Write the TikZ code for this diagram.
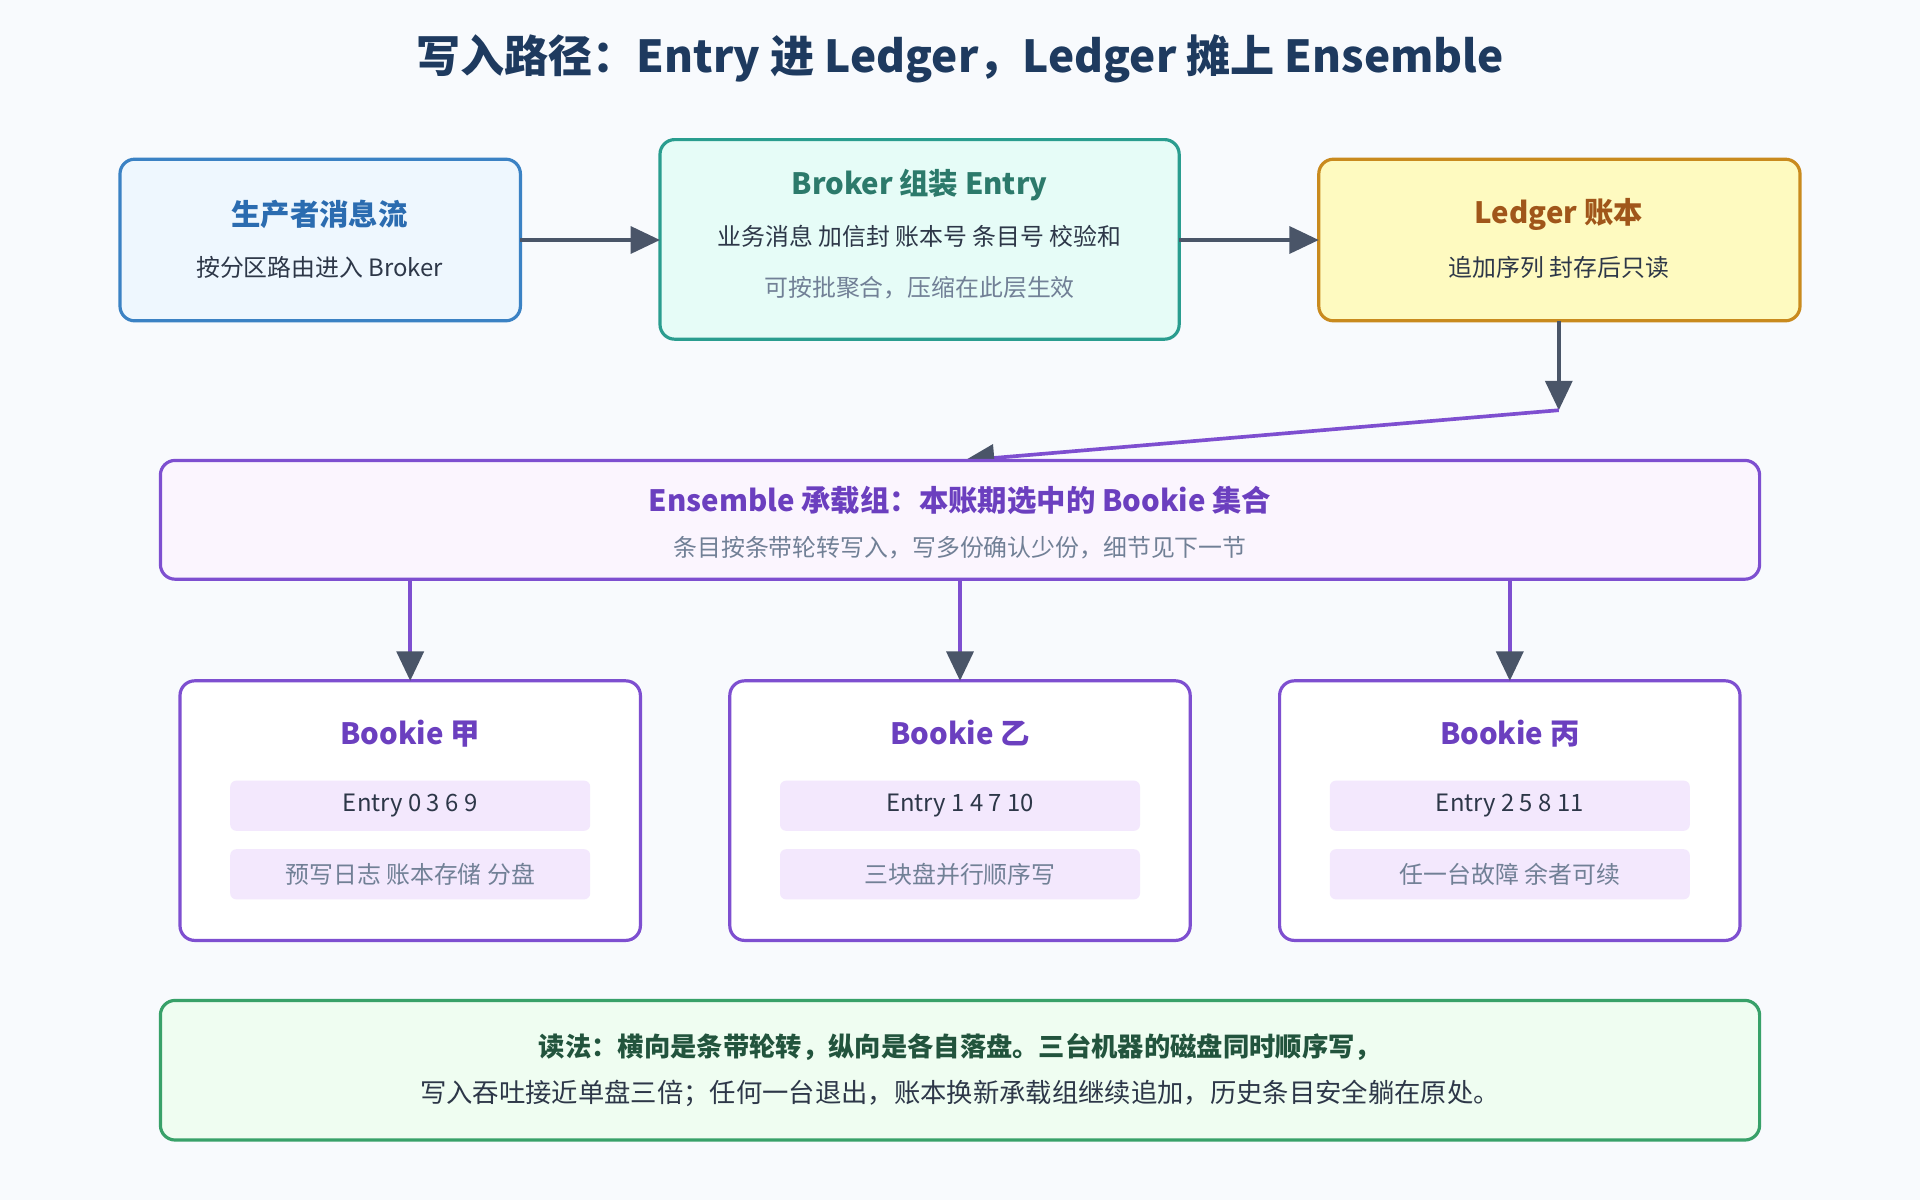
\documentclass[tikz,border=0pt]{standalone}
\usepackage{fontspec}
\setmainfont{Noto Sans CJK SC}
\usetikzlibrary{arrows.meta}
\definecolor{bg}{HTML}{F8FAFD}
\definecolor{navy}{HTML}{1E3A5F}
\definecolor{agray}{HTML}{4A5568}
\definecolor{bluel}{HTML}{3B82C4}\definecolor{bluef}{HTML}{EEF7FE}\definecolor{bluet}{HTML}{2B6CB0}
\definecolor{teall}{HTML}{2A9D8F}\definecolor{tealf}{HTML}{E6FCF7}\definecolor{tealt}{HTML}{2C7A6B}
\definecolor{goldl}{HTML}{C98A1E}\definecolor{goldf}{HTML}{FEFAC0}\definecolor{goldt}{HTML}{A0561A}
\definecolor{purl}{HTML}{7E4FD0}\definecolor{purf}{HTML}{FBF5FE}\definecolor{purt}{HTML}{6B3FBF}\definecolor{pill}{HTML}{F3E8FD}
\definecolor{grnl}{HTML}{38A169}\definecolor{grnf}{HTML}{EFFDF1}\definecolor{grnt}{HTML}{22543D}
\definecolor{txt}{HTML}{2D3748}\definecolor{sub}{HTML}{718096}
\tikzset{
 box/.style={draw, line width=2.6pt, rounded corners=12pt},
 pillbox/.style={fill=pill, rounded corners=5pt, minimum width=294pt, minimum height=41pt, inner sep=0pt},
 ttl/.style={font=\fontsize{24}{28}\selectfont\bfseries},
 txtn/.style={font=\fontsize{19.5}{23}\selectfont, text=txt},
 subn/.style={font=\fontsize{19.5}{23}\selectfont, text=sub},
 arr/.style={line width=3pt, draw=agray, -{Triangle[length=24pt,width=22pt,color=agray]}},
 parr/.style={line width=3pt, draw=purl, -{Triangle[length=24pt,width=22pt,color=agray]}},
}
\begin{document}
\begin{tikzpicture}[x=1pt,y=-1pt]
\fill[bg] (0,0) rectangle (1568,980);
\useasboundingbox (0,0) rectangle (1568,980);
\node[font=\fontsize{36}{42}\selectfont\bfseries, text=navy] (title) at (784,48) {写入路径：Entry 进 Ledger，Ledger 摊上 Ensemble};
% top boxes
\draw[box, draw=bluel, fill=bluef] (98,130) rectangle (425,262);
\coordinate (b1e) at (425,196);
\node[ttl, text=bluet] (b1t) at (261,175) {生产者消息流};
\node[txtn] (b1s) at (261,218) {按分区路由进入 Broker};
\draw[box, draw=teall, fill=tealf] (539,114) rectangle (963,277);
\coordinate (b2w) at (539,196); \coordinate (b2e) at (963,196);
\node[ttl, text=tealt] (b2t) at (751,151) {Broker 组装 Entry};
\node[txtn] (b2s) at (751,193) {业务消息 加信封 账本号 条目号 校验和};
\node[subn] (b2u) at (751,235) {可按批聚合，压缩在此层生效};
\draw[box, draw=goldl, fill=goldf] (1077,130) rectangle (1470,262);
\coordinate (b3w) at (1077,196); \coordinate (b3s) at (1273,262);
\node[ttl, text=goldt] (b3t) at (1273,175) {Ledger 账本};
\node[txtn] (b3u) at (1273,218) {追加序列 封存后只读};
\draw[arr] (b1e) -- (b2w);
\draw[arr] (b2e) -- (b3w);
\coordinate (bend) at (1273,335);
\coordinate (ensn) at (788,376);
\draw[arr] (b3s) -- (bend);
\draw[parr] (bend) -- (ensn);
% ensemble
\draw[box, draw=purl, fill=purf] (131,376) rectangle (1437,473);
\node[ttl, text=purt] (et) at (784,409) {Ensemble 承载组：本账期选中的 Bookie 集合};
\node[subn] (es) at (784,447) {条目按条带轮转写入，写多份确认少份，细节见下一节};
% bookies
\foreach \x/\n/\e/\s/\id in {335/甲/0 3 6 9/预写日志 账本存储 分盘/a, 784/乙/1 4 7 10/三块盘并行顺序写/b, 1233/丙/2 5 8 11/任一台故障 余者可续/c}{
  \coordinate (src\id) at (\x,473);
  \draw[box, draw=purl, fill=white] (\x-188,556) rectangle (\x+188,768);
  \coordinate (dst\id) at (\x,556);
  \draw[parr] (src\id) -- (dst\id);
  \node[ttl, text=purt] (bk\id) at (\x,599) {Bookie \n};
  \node[pillbox, txtn] (p1\id) at (\x,658) {Entry \e};
  \node[pillbox, subn] (p2\id) at (\x,714) {\s};
}
% bottom
\draw[box, draw=grnl, fill=grnf] (131,817) rectangle (1437,931);
\node[font=\fontsize{21.5}{26}\selectfont\bfseries, text=grnt] (r1) at (784,855) {读法：横向是条带轮转，纵向是各自落盘。三台机器的磁盘同时顺序写，};
\node[font=\fontsize{21.5}{26}\selectfont, text=txt] (r2) at (784,893) {写入吞吐接近单盘三倍；任何一台退出，账本换新承载组继续追加，历史条目安全躺在原处。};
\end{tikzpicture}
\end{document}
